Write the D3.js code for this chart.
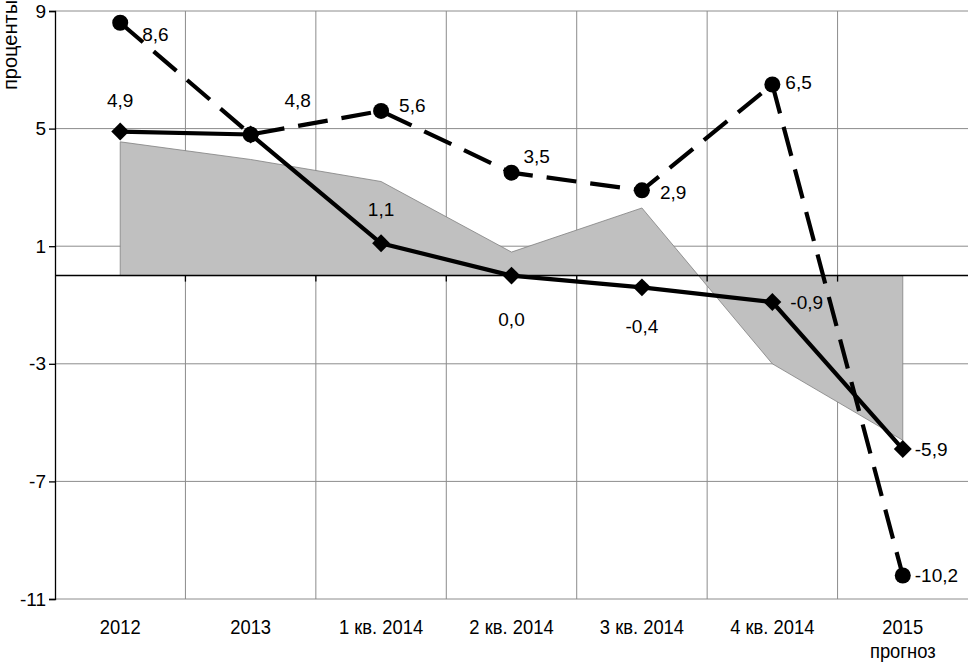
<!DOCTYPE html>
<html>
<head>
<meta charset="utf-8">
<script src="https://d3js.org/d3.v7.min.js"></script>
<style>
 body {margin:0; background:#fff;}
 text {font-family: "Liberation Sans", Arial, sans-serif; fill:#000;}
</style>
</head>
<body>
<svg width="968" height="662"></svg>
<script>

// categories and series
var categories = ["2012", "2013", "1 кв. 2014", "2 кв. 2014", "3 кв. 2014", "4 кв. 2014", "2015"];
var solidValues = [4.9, 4.8, 1.1, 0.0, -0.4, -0.9, -5.9];
var dashedValues = [8.6, 4.8, 5.6, 3.5, 2.9, 6.5, -10.2];
var areaValues = [4.55, 3.95, 3.2, 0.8, 2.3, -3.0, -5.6];
var yTicks = [9, 5, 1, -3, -7, -11];

// where each value label sits relative to its point
var solidLabelPos = ["above", "aboveRight", "above", "below", "below", "right", "right"];
var dashedLabelPos = ["right", "none", "right", "upRight", "right", "right", "right"];

var svg = d3.select("svg");
var plotL = 55, plotR = 968, plotT = 11, plotB = 599;

var x = d3.scaleBand().domain(categories).range([plotL, plotR]);
var y = d3.scaleLinear().domain([-11, 9]).range([plotB, plotT]);
var cx = function(i) { return x(categories[i]) + x.bandwidth() / 2; };
var fmt = function(v) { return d3.format(".1f")(v).replace(".", ",").replace("−", "-"); };

// grid
svg.append("g").selectAll("line").data(yTicks).enter().append("line")
  .attr("x1", plotL).attr("x2", plotR)
  .attr("y1", function(d) { return y(d); }).attr("y2", function(d) { return y(d); })
  .attr("stroke", "#8c8c8c").attr("stroke-width", 1);

svg.append("g").selectAll("line").data(categories.slice(1)).enter().append("line")
  .attr("x1", function(d) { return x(d); }).attr("x2", function(d) { return x(d); })
  .attr("y1", plotT).attr("y2", plotB)
  .attr("stroke", "#8c8c8c").attr("stroke-width", 1);

// gray area
var area = d3.area()
  .x(function(d, i) { return cx(i); })
  .y0(y(0))
  .y1(function(d) { return y(d); });
svg.append("path").datum(areaValues)
  .attr("d", area)
  .attr("fill", "#c0c0c0")
  .attr("stroke", "#808080").attr("stroke-width", 0.8);

// axes
var yAxis = d3.axisLeft(y).tickValues(yTicks).tickSize(6).tickFormat(function(d) { return String(d); });
var gy = svg.append("g").attr("transform", "translate(" + plotL + ",0)").call(yAxis);
gy.select(".domain").attr("stroke", "#000").attr("stroke-width", 1.3);
gy.selectAll(".tick line").attr("stroke", "#000").attr("stroke-width", 1.3);
gy.selectAll(".tick text").attr("font-size", 19).attr("x", -9)
  .style("font-family", "Liberation Sans, Arial");

// zero line with ticks at band edges
svg.append("line").attr("x1", plotL).attr("x2", plotR)
  .attr("y1", y(0)).attr("y2", y(0)).attr("stroke", "#000").attr("stroke-width", 1.5);
svg.append("g").selectAll("line").data(categories.slice(1)).enter().append("line")
  .attr("x1", function(d) { return x(d); }).attr("x2", function(d) { return x(d); })
  .attr("y1", y(0)).attr("y2", y(0) + 6)
  .attr("stroke", "#000").attr("stroke-width", 1.3);

// category labels
svg.append("g").selectAll("text").data(categories).enter().append("text")
  .attr("transform", function(d, i) { return "translate(" + cx(i) + ",634) scale(0.92,1)"; })
  .attr("text-anchor", "middle")
  .attr("font-size", 20)
  .text(function(d) { return d; });
svg.append("text")
  .attr("transform", "translate(" + cx(6) + ",658) scale(0.92,1)")
  .attr("text-anchor", "middle").attr("font-size", 20)
  .text("прогноз");

// y title
svg.append("text")
  .attr("transform", "translate(17,90) rotate(-90)")
  .attr("font-size", 20)
  .text("проценты");

// dashed series
var line = d3.line().x(function(d, i) { return cx(i); }).y(function(d) { return y(d); });
svg.append("path").datum(dashedValues)
  .attr("d", line).attr("fill", "none")
  .attr("stroke", "#000").attr("stroke-width", 4.2)
  .attr("stroke-dasharray", "30,14");
svg.append("g").selectAll("circle").data(dashedValues).enter().append("circle")
  .attr("cx", function(d, i) { return cx(i); })
  .attr("cy", function(d) { return y(d); })
  .attr("r", 8).attr("fill", "#000");

// solid series
svg.append("path").datum(solidValues)
  .attr("d", line).attr("fill", "none")
  .attr("stroke", "#000").attr("stroke-width", 4.2);
svg.append("g").selectAll("path").data(solidValues).enter().append("path")
  .attr("d", d3.symbol().type(d3.symbolSquare).size(160))
  .attr("transform", function(d, i) { return "translate(" + cx(i) + "," + y(d) + ") rotate(45)"; })
  .attr("fill", "#000");

// value labels
var offsets = {
  above: [0, -27, "middle"],
  aboveRight: [47, -27, "middle"],
  below: [0, 50, "middle"],
  right: [18, 7, "start"],
  upRight: [12, -10, "start"]
};
function labels(values, pos, tweak) {
  values.forEach(function(v, i) {
    if (pos[i] === "none") return;
    var o = offsets[pos[i]];
    var t = tweak[i] || [0, 0];
    svg.append("text")
      .attr("x", cx(i) + o[0] + t[0])
      .attr("y", y(v) + o[1] + t[1])
      .attr("text-anchor", o[2])
      .attr("font-size", 19)
      .text(fmt(v));
  });
}
labels(solidValues, solidLabelPos, [[0, 2], [0, 0], [0, 0], [0, 0], [0, -4], [0, 0], [-6, 0]]);
labels(dashedValues, dashedLabelPos, [[4, 11], [0, 0], [0, -6], [0, 0], [0, 2], [-5, -3], [-6, 0]]);

</script>
</body>
</html>
